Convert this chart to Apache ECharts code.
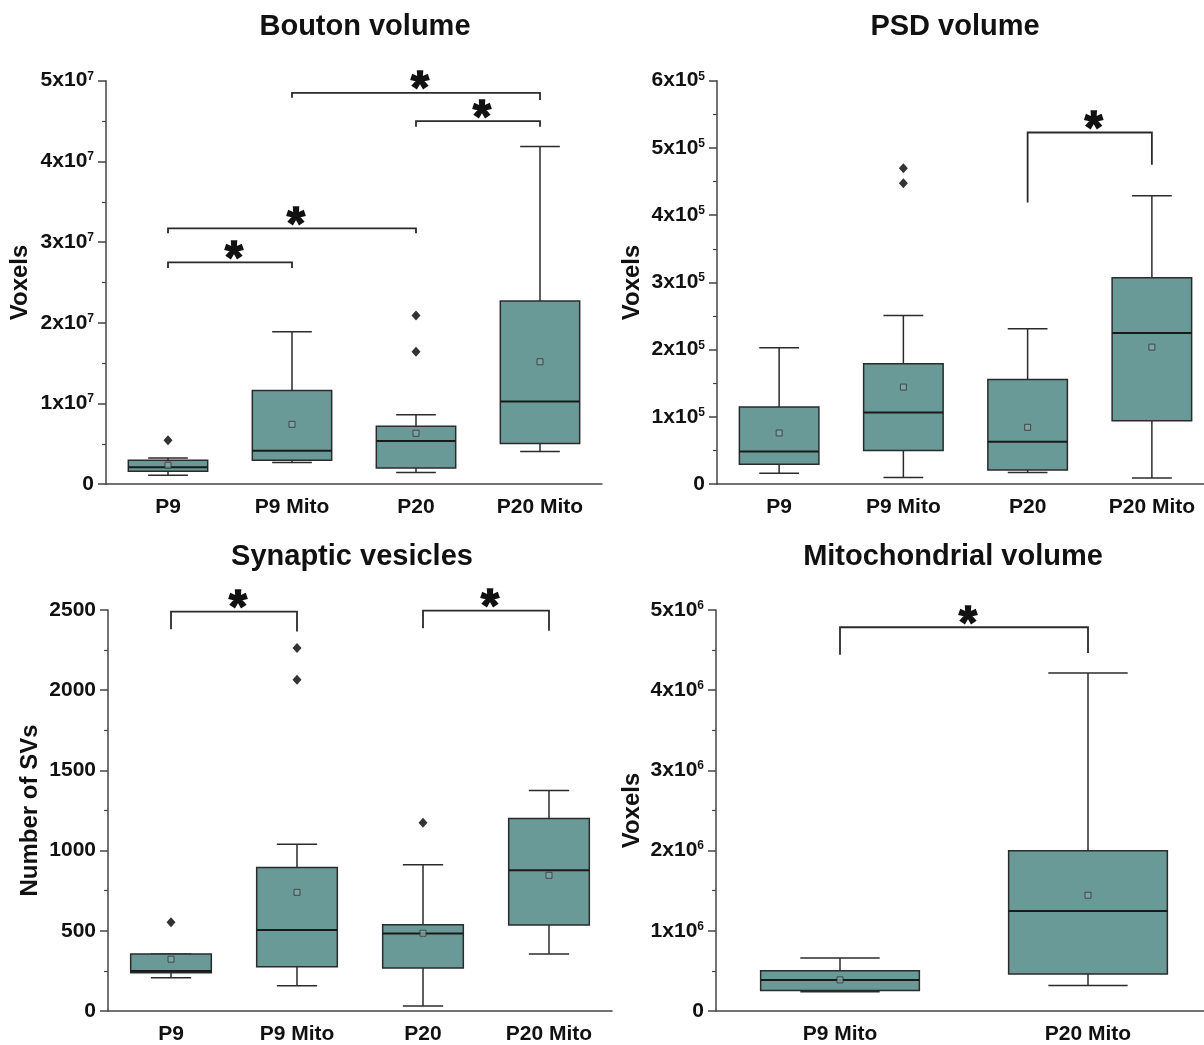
<!DOCTYPE html>
<html>
<head>
<meta charset="utf-8">
<title>Bouton, PSD, SV and mitochondrial volumes</title>
<script src="https://cdn.jsdelivr.net/npm/echarts/dist/echarts.min.js"></script>
<style>
  html, body { margin: 0; padding: 0; background: #fff; overflow: hidden; }
  #main { width: 1216px; height: 1045px; }
</style>
</head>
<body>
<div id="main"></div>
<script>
var categories = ['P9', 'P9 Mito', 'P20', 'P20 Mito'];
var mitoCategories = ['P9 Mito', 'P20 Mito'];

// box rows: [lower whisker, Q1, median, Q3, upper whisker]
var boutonBoxes = [
  [1.1e6, 1.6e6, 2.1e6, 2.97e6, 3.25e6],
  [2.68e6, 2.97e6, 4.16e6, 11.6e6, 18.9e6],
  [1.44e6, 2.02e6, 5.36e6, 7.17e6, 8.61e6],
  [4.04e6, 5.03e6, 10.26e6, 22.7e6, 41.85e6]
];
var boutonMeans = [2.35e6, 7.42e6, 6.31e6, 15.17e6];
var boutonOutliers = [[0, 5.44e6], [2, 16.4e6], [2, 20.9e6]];
// significance: [from, to, bracket top, left end, right end]
var boutonSig = [
  [1, 3, 4.85e7, 4.79e7, 4.76e7],
  [2, 3, 4.5e7, 4.43e7, 4.43e7],
  [0, 2, 3.17e7, 3.11e7, 3.11e7],
  [0, 1, 2.75e7, 2.68e7, 2.68e7]
];

var psdBoxes = [
  [16.3e3, 29.7e3, 48.5e3, 114.7e3, 202.8e3],
  [9.9e3, 50e3, 106.8e3, 179e3, 251e3],
  [17.3e3, 21.3e3, 63.3e3, 155.8e3, 231e3],
  [9.4e3, 94.5e3, 225e3, 307e3, 429e3]
];
var psdMeans = [76.2e3, 144.4e3, 84.6e3, 203.8e3];
var psdOutliers = [[1, 469.8e3], [1, 447.6e3]];
var psdSig = [[2, 3, 5.23e5, 4.19e5, 4.75e5]];

var svBoxes = [
  [207, 238, 250, 355, 355],
  [157, 276, 505, 895, 1040],
  [31, 268, 483, 538, 912],
  [355, 536, 877, 1200, 1374]
];
var svMeans = [323, 740, 485, 846];
var svOutliers = [[0, 554], [1, 2065], [1, 2263], [2, 1174]];
var svSig = [[0, 1, 2490, 2380, 2366], [2, 3, 2496, 2386, 2370]];

var mitoBoxes = [
  [0.24e6, 0.256e6, 0.388e6, 0.503e6, 0.66e6],
  [0.318e6, 0.462e6, 1.246e6, 1.997e6, 4.216e6]
];
var mitoMeans = [0.388e6, 1.444e6];
var mitoOutliers = [];
var mitoSig = [[0, 1, 4.785e6, 4.443e6, 4.464e6]];

var FONT = '"Liberation Sans", Arial, sans-serif';
var BOX_FILL = '#6a9a97';
var INK = '#2b2b2b';

var chart = echarts.init(document.getElementById('main'));

function sciLabel(exp) {
  return function (v) {
    if (v === 0) return '{b|0}';
    return '{b|' + Math.round(v / Math.pow(10, exp)) + 'x10}{s|' + exp + '}';
  };
}

var labelRich = {
  b: { fontSize: 21, fontWeight: 'bold', fontFamily: FONT, color: '#111' },
  s: { fontSize: 12, fontWeight: 'bold', fontFamily: FONT, color: '#111', verticalAlign: 'top' }
};

function xAxis(idx, cats) {
  return {
    type: 'category', gridIndex: idx, data: cats, boundaryGap: true,
    axisLine: { lineStyle: { color: '#444', width: 1.5 } },
    axisTick: { alignWithLabel: true, length: 7, lineStyle: { color: '#444', width: 1.5 } },
    axisLabel: { fontSize: 21, fontWeight: 'bold', fontFamily: FONT, color: '#111', margin: 13 },
    splitLine: { show: false }
  };
}

function yAxis(idx, max, interval, fmt, name, gap) {
  return {
    type: 'value', gridIndex: idx, min: 0, max: max, interval: interval,
    name: name, nameLocation: 'middle', nameGap: gap, nameRotate: 90,
    nameTextStyle: { fontSize: 24, fontWeight: 'bold', fontFamily: FONT, color: '#111' },
    axisLine: { show: true, lineStyle: { color: '#444', width: 1.5 } },
    axisTick: { show: true, length: 8, lineStyle: { color: '#444', width: 1.5 } },
    minorTick: { show: true, splitNumber: 2, length: 4, lineStyle: { color: '#444', width: 1.2 } },
    splitLine: { show: false },
    minorSplitLine: { show: false },
    axisLabel: { formatter: fmt, rich: labelRich, margin: 12 }
  };
}

function boxSeries(idx, boxes) {
  return {
    type: 'custom', xAxisIndex: idx, yAxisIndex: idx, z: 2,
    data: boxes.map(function (b, k) { return [k].concat(b); }),
    encode: { x: 0, y: [1, 2, 3, 4, 5] },
    renderItem: function (params, api) {
      var x = api.value(0);
      var lo = api.coord([x, api.value(1)]);
      var q1 = api.coord([x, api.value(2)]);
      var md = api.coord([x, api.value(3)]);
      var q3 = api.coord([x, api.value(4)]);
      var hi = api.coord([x, api.value(5)]);
      var band = api.size([1, 0])[0];
      var bw = band * 0.64, cw = bw * 0.5, cx = lo[0];
      var ls = { stroke: INK, lineWidth: 1.5 };
      return {
        type: 'group',
        children: [
          { type: 'line', shape: { x1: cx, y1: hi[1], x2: cx, y2: q3[1] }, style: ls },
          { type: 'line', shape: { x1: cx, y1: q1[1], x2: cx, y2: lo[1] }, style: ls },
          { type: 'line', shape: { x1: cx - cw / 2, y1: hi[1], x2: cx + cw / 2, y2: hi[1] }, style: ls },
          { type: 'line', shape: { x1: cx - cw / 2, y1: lo[1], x2: cx + cw / 2, y2: lo[1] }, style: ls },
          { type: 'rect', shape: { x: cx - bw / 2, y: q3[1], width: bw, height: q1[1] - q3[1] },
            style: { fill: BOX_FILL, stroke: INK, lineWidth: 1.5 } },
          { type: 'line', shape: { x1: cx - bw / 2, y1: md[1], x2: cx + bw / 2, y2: md[1] },
            style: { stroke: '#1a1a1a', lineWidth: 2 } }
        ]
      };
    }
  };
}

function meanSeries(idx, means) {
  return {
    type: 'scatter', xAxisIndex: idx, yAxisIndex: idx, z: 4,
    data: means.map(function (m, k) { return [k, m]; }),
    symbol: 'rect', symbolSize: 6,
    itemStyle: { color: '#7fa9a6', borderColor: '#333', borderWidth: 1 }
  };
}

function outlierSeries(idx, pts) {
  return {
    type: 'scatter', xAxisIndex: idx, yAxisIndex: idx, z: 4,
    data: pts, symbol: 'diamond', symbolSize: [9, 10],
    itemStyle: { color: '#000' }
  };
}

function sigSeries(idx, sig) {
  return {
    type: 'custom', xAxisIndex: idx, yAxisIndex: idx, z: 3,
    data: sig,
    encode: { x: [0, 1], y: [2, 3, 4] },
    renderItem: function (params, api) {
      var a = api.value(0), b = api.value(1), top = api.value(2);
      var p1 = api.coord([a, api.value(3)]);
      var p2 = api.coord([a, top]);
      var p3 = api.coord([b, top]);
      var p4 = api.coord([b, api.value(4)]);
      return {
        type: 'group',
        children: [
          { type: 'polyline', shape: { points: [p1, p2, p3, p4] },
            style: { stroke: INK, lineWidth: 1.8, fill: null } },
          { type: 'text', x: (p2[0] + p3[0]) / 2 + 4, y: p2[1] - 2,
            style: { text: '*', fontSize: 46, fontWeight: 'bold', fontFamily: FONT,
                     fill: '#111', stroke: '#111', lineWidth: 1.6,
                     align: 'center', verticalAlign: 'middle' } }
        ]
      };
    }
  };
}

function titleAt(text, x, y) {
  return {
    text: text, left: x, top: y, textAlign: 'center', padding: 0,
    textStyle: { fontSize: 29, fontWeight: 'bold', fontFamily: FONT, color: '#111' }
  };
}

var option = {
  backgroundColor: '#fff',
  animation: false,
  title: [
    titleAt('Bouton volume', 365, 12),
    titleAt('PSD volume', 955, 12),
    titleAt('Synaptic vesicles', 352, 542),
    titleAt('Mitochondrial volume', 953, 542)
  ],
  grid: [
    { left: 106, top: 80.7, width: 496, height: 403.5 },
    { left: 717, top: 80.7, width: 497, height: 403.5 },
    { left: 108, top: 610, width: 504, height: 404 },
    { left: 716, top: 610, width: 496, height: 404 }
  ],
  xAxis: [
    xAxis(0, categories),
    xAxis(1, categories),
    xAxis(2, categories),
    xAxis(3, mitoCategories)
  ],
  yAxis: [
    yAxis(0, 5e7, 1e7, sciLabel(7), 'Voxels', 74),
    yAxis(1, 6e5, 1e5, sciLabel(5), 'Voxels', 73),
    yAxis(2, 2500, 500, function (v) { return '{b|' + v + '}'; }, 'Number of SVs', 66),
    yAxis(3, 5e6, 1e6, sciLabel(6), 'Voxels', 72)
  ],
  series: [
    boxSeries(0, boutonBoxes), meanSeries(0, boutonMeans), outlierSeries(0, boutonOutliers), sigSeries(0, boutonSig),
    boxSeries(1, psdBoxes), meanSeries(1, psdMeans), outlierSeries(1, psdOutliers), sigSeries(1, psdSig),
    boxSeries(2, svBoxes), meanSeries(2, svMeans), outlierSeries(2, svOutliers), sigSeries(2, svSig),
    boxSeries(3, mitoBoxes), meanSeries(3, mitoMeans), outlierSeries(3, mitoOutliers), sigSeries(3, mitoSig)
  ]
};

chart.setOption(option);
</script>
</body>
</html>
